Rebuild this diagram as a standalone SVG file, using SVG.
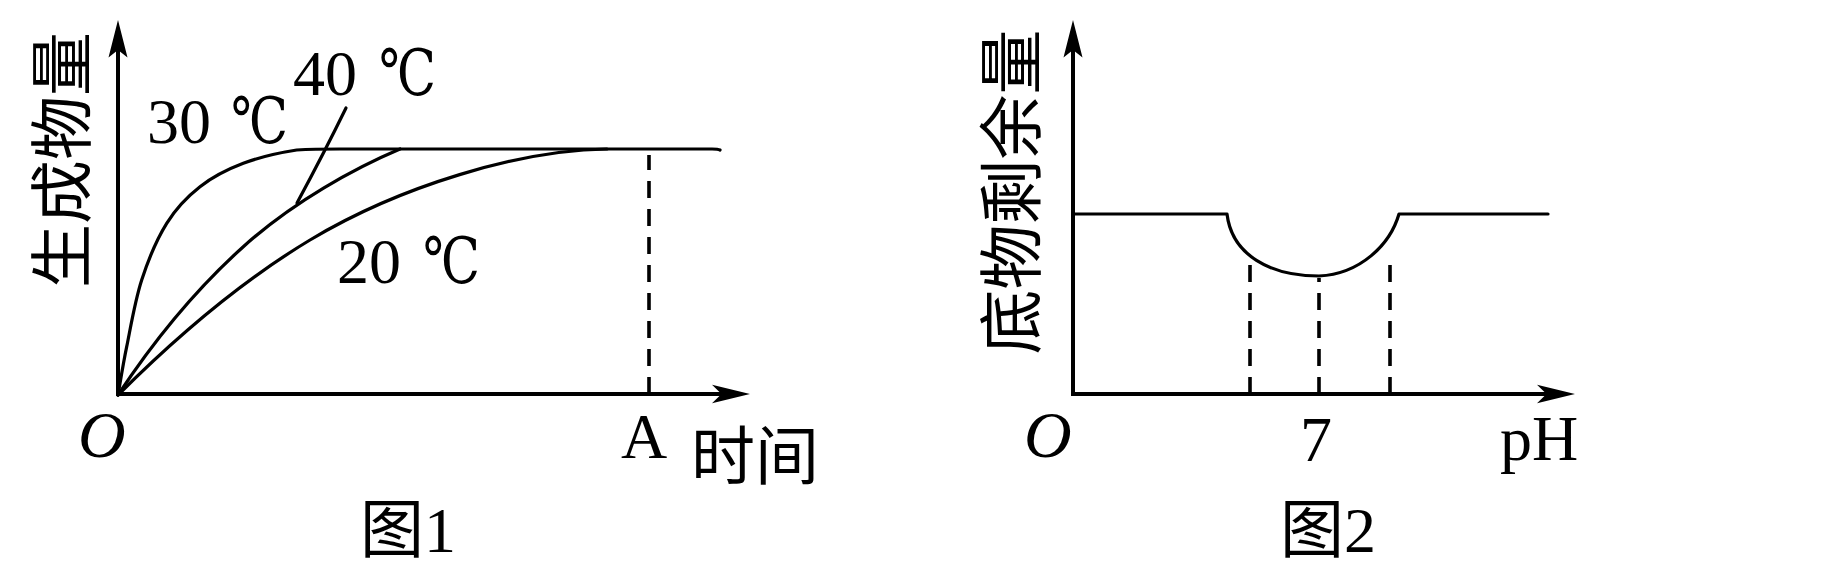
<svg xmlns="http://www.w3.org/2000/svg" width="1842" height="588" viewBox="0 0 1842 588">
<style>
.ax{stroke:#000;stroke-width:4;fill:none}
.cv{stroke:#000;stroke-width:3.2;fill:none;stroke-linecap:round;stroke-linejoin:round}
.ds{stroke:#000;stroke-width:3.6;fill:none;stroke-dasharray:17 11}
.ah{fill:#000;stroke:none}
.lt{font-family:"Liberation Serif","Times New Roman",serif;font-size:64px;fill:#000}
.it{font-family:"Liberation Serif","Times New Roman",serif;font-size:66px;font-style:italic;fill:#000}
.deg{font-family:"Liberation Serif","DejaVu Serif","Noto Sans CJK SC",serif;font-size:64px;fill:#000}
.cj{font-family:"Noto Sans CJK SC","Noto Sans CJK JP",sans-serif;font-size:64px;fill:#000}
</style>
<rect width="1842" height="588" fill="#fff"/>
<g id="fig1">
  <g id="fig1-axes">
    <line class="ax" x1="118" y1="395" x2="118" y2="48"/>
    <path class="ah" d="M118,20 L127.5,57.5 L118,50 L108.5,57.5 Z"/>
    <line class="ax" x1="116" y1="394" x2="722" y2="394"/>
    <path class="ah" d="M750,394 L712,384.8 L721.5,394 L712,403.2 Z"/>
  </g>
  <g id="fig1-curves">
    <path id="c30" class="cv" d="M118,395 C119.5,387 122.7,365.9 126.7,346.7 C130.6,327.5 135,300.6 141.7,280 C148.4,259.4 157,238.9 166.7,223.3 C176.4,207.7 187.2,196.7 200,186.7 C212.8,176.7 227.2,169.4 243.3,163.3 C259.4,157.2 280.6,152.5 296.7,150 C312.8,149 326.1,149 340,149 L712,149 Q718,149 720,150"/>
    <path id="c40" class="cv" d="M118,395 C158,334.4 203.3,282.7 243.3,246.7 C293.3,201.7 355,168 400,149"/>
    <path id="c20" class="cv" d="M118,395 C182,331 246,278.4 310,240 C400,186 520,150 607,149"/>
    <path id="lead40" class="cv" d="M346,108 Q324,153 297,203"/>
    <line class="ds" x1="649" y1="394" x2="649" y2="155"/>
  </g>
  <g id="fig1-labels">
    <text class="lt" x="147" y="143">30</text>
    <text class="deg" x="231" y="143" textLength="57" lengthAdjust="spacingAndGlyphs">℃</text>
    <text class="lt" x="293" y="95">40</text>
    <text class="deg" x="379" y="95" textLength="57" lengthAdjust="spacingAndGlyphs">℃</text>
    <text class="lt" x="337" y="283">20</text>
    <text class="deg" x="423" y="283" textLength="57" lengthAdjust="spacingAndGlyphs">℃</text>
    <text class="it" x="78" y="457">O</text>
    <text class="lt" x="621" y="458">A</text>
    <text class="cj" x="691" y="479">时间</text>
    <text class="cj" x="360" y="552">图<tspan class="lt">1</tspan></text>
    <text class="cj" x="0" y="0" text-anchor="middle" dominant-baseline="central" transform="translate(57,160) rotate(-90)">生成物量</text>
  </g>
</g>
<g id="fig2">
  <g id="fig2-axes">
    <line class="ax" x1="1073" y1="396" x2="1073" y2="48"/>
    <path class="ah" d="M1073,20 L1082.5,57.5 L1073,50 L1063.5,57.5 Z"/>
    <line class="ax" x1="1071" y1="394" x2="1547" y2="394"/>
    <path class="ah" d="M1575,394 L1537,384.8 L1546.5,394 L1537,403.2 Z"/>
  </g>
  <g id="fig2-curves">
    <path id="sub" class="cv" d="M1073,214 H1227 C1232,255 1270,276 1319,276 C1360,274 1390,245 1399,214 H1548"/>
    <line class="ds" x1="1250" y1="394" x2="1250" y2="262"/>
    <line class="ds" x1="1319" y1="394" x2="1319" y2="278"/>
    <line class="ds" x1="1390" y1="394" x2="1390" y2="262"/>
  </g>
  <g id="fig2-labels">
    <text class="it" x="1024" y="457">O</text>
    <text class="lt" x="1316" y="461" text-anchor="middle">7</text>
    <text class="lt" x="1500" y="460">pH</text>
    <text class="cj" x="1280" y="552">图<tspan class="lt">2</tspan></text>
    <text class="cj" x="0" y="0" text-anchor="middle" dominant-baseline="central" transform="translate(1007,192) rotate(-90)" style="font-size:65px">底物剩余量</text>
  </g>
</g>
</svg>
